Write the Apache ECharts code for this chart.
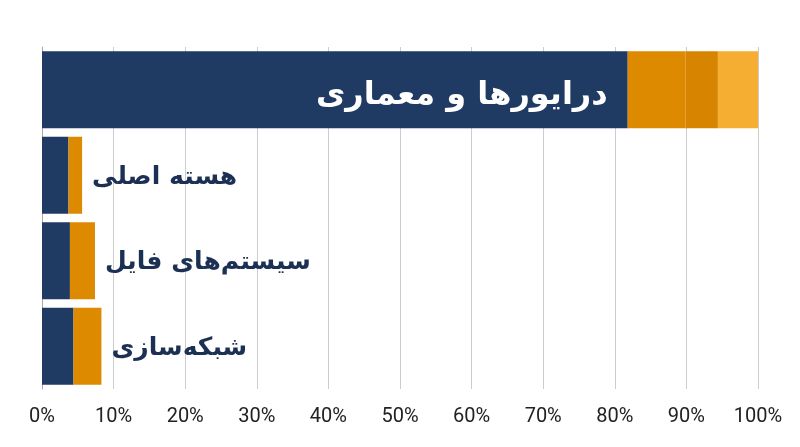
<!doctype html>
<html>
<head>
    <meta charset="utf-8">
    <title>chart</title>
    <script type="text/javascript" src="https://cdn.jsdelivr.net/npm/echarts@6/dist/echarts.min.js"></script>
    <style>
        html, body { margin: 0; padding: 0; background: #fff; }
        #container { width: 800px; height: 447px; }
    </style>
</head>
<body>
<div id="container"></div>
<script type="text/javascript">
    // دسته‌ها و مقادیر (درصد)
    var categories = ['درایورها و معماری', 'هسته اصلی', 'سیستم\u200cهای فایل', 'شبکه\u200cسازی'];
    var navyValues = [81.8, 3.7, 3.9, 4.4];
    var orangeValues = [8.1, 1.9, 3.5, 3.9];
    var darkOrangeValues = [4.5, 0, 0, 0];
    var lightValues = [5.6, 0, 0, 0];
    var tickLabels = ['0%', '10%', '20%', '30%', '40%', '50%', '60%', '70%', '80%', '90%', '100%'];

    var labelFont = '"DejaVu Sans", sans-serif';

    var dom = document.getElementById("container");
    var myChart = echarts.init(dom);

    // برچسب ردیف اول داخل نوار، بقیه بیرون
    var navyData = navyValues.map(function (v, i) {
        var item = {value: v};
        if (i === 0) {
            item.label = {
                show: true, position: 'insideRight', distance: 20, offset: [0, 6],
                color: '#ffffff', fontSize: 32, fontWeight: 'bold', fontFamily: labelFont,
                formatter: function () { return categories[0]; }
            };
        }
        return item;
    });
    var orangeData = orangeValues.map(function (v, i) {
        var item = {value: v};
        if (i > 0) {
            item.label = {
                show: true, position: 'right', distance: 10, offset: [0, 2],
                color: '#1c3053', fontSize: 25, fontWeight: 'bold', fontFamily: labelFont,
                formatter: function () { return categories[i]; }
            };
        }
        return item;
    });

    var option = {
        animation: false,
        grid: {left: 42, right: 42, top: 47, bottom: 58},
        xAxis: {
            type: 'value',
            min: 0, max: 100, interval: 10,
            axisLine: {show: false},
            axisTick: {show: false},
            splitLine: {show: true, lineStyle: {color: '#cccccc', width: 1}},
            axisLabel: {
                margin: 18, fontSize: 20, color: '#222', fontFamily: 'Roboto',
                formatter: function (v) { return tickLabels[Math.round(v / 10)]; }
            }
        },
        yAxis: {
            type: 'category',
            inverse: true,
            data: categories,
            axisLine: {show: true, lineStyle: {color: '#aaaaaa'}},
            axisTick: {show: false},
            axisLabel: {show: false}
        },
        series: [
            {name: 'navy', type: 'bar', stack: 's', barWidth: 77, itemStyle: {color: '#1f3b63'}, data: navyData},
            {name: 'orange', type: 'bar', stack: 's', itemStyle: {color: '#dd8a00'}, data: orangeData},
            {name: 'darkOrange', type: 'bar', stack: 's', itemStyle: {color: '#d78500'}, data: darkOrangeValues},
            {name: 'light', type: 'bar', stack: 's', itemStyle: {color: '#f5ae31'}, data: lightValues}
        ]
    };
    myChart.setOption(option, true);
</script>
</body>
</html>
